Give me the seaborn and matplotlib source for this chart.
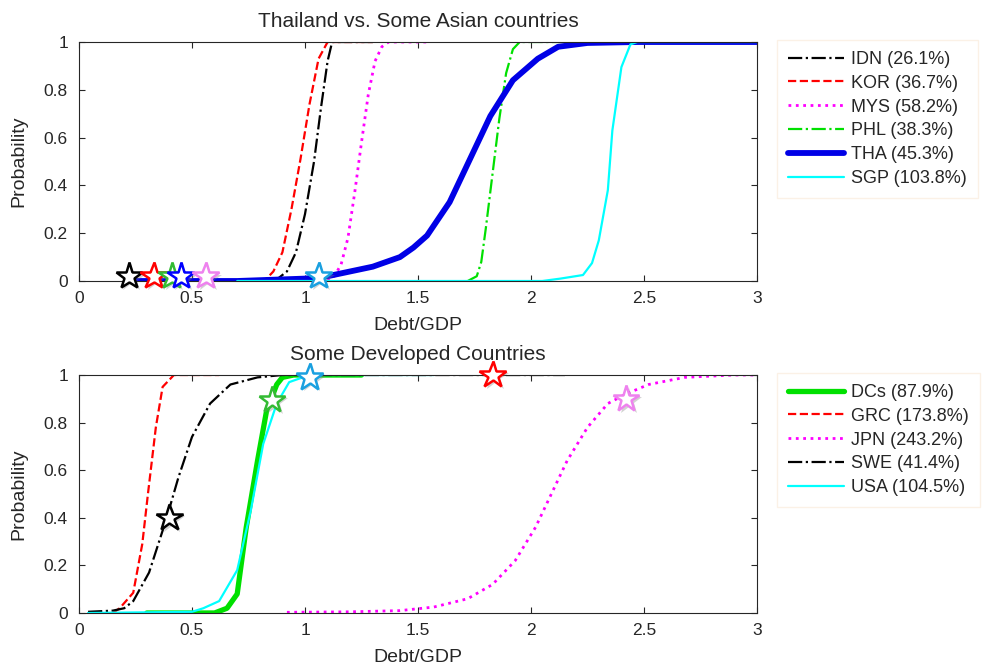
import matplotlib
matplotlib.use("Agg")
import matplotlib.pyplot as plt
import matplotlib.patheffects as pe
from matplotlib.lines import Line2D
import seaborn as sns

# ---- data ----
# top panel: Thailand vs. Some Asian countries
idn_x = [0.85, 0.88, 0.92, 0.96, 1.00, 1.04, 1.07, 1.10, 1.12, 1.30]
idn_y = [0.00, 0.01, 0.04, 0.12, 0.28, 0.50, 0.72, 0.92, 1.00, 1.00]
kor_x = [0.80, 0.83, 0.86, 0.90, 0.94, 0.98, 1.02, 1.06, 1.10, 1.30]
kor_y = [0.00, 0.01, 0.04, 0.12, 0.30, 0.51, 0.74, 0.93, 1.00, 1.00]
mys_x = [1.10, 1.13, 1.16, 1.19, 1.22, 1.25, 1.28, 1.31, 1.34, 1.37, 1.55]
mys_y = [0.00, 0.02, 0.07, 0.18, 0.37, 0.58, 0.78, 0.92, 0.98, 1.00, 1.00]
phl_x = [1.72, 1.76, 1.78, 1.80, 1.83, 1.86, 1.89, 1.92, 1.95, 2.20]
phl_y = [0.00, 0.02, 0.08, 0.22, 0.45, 0.68, 0.87, 0.97, 1.00, 1.00]
tha_x = [0.24, 0.70, 1.00, 1.10, 1.20, 1.30, 1.36, 1.42, 1.48, 1.54, 1.64, 1.73, 1.82, 1.92, 2.03, 2.12, 2.25, 2.47, 3.00]
tha_y = [0.00, 0.00, 0.01, 0.02, 0.04, 0.06, 0.08, 0.10, 0.14, 0.19, 0.33, 0.51, 0.69, 0.84, 0.93, 0.98, 0.996, 1.00, 1.00]
sgp_x = [0.70, 2.05, 2.13, 2.23, 2.27, 2.30, 2.34, 2.36, 2.40, 2.44, 2.47, 3.00]
sgp_y = [0.00, 0.00, 0.01, 0.025, 0.075, 0.17, 0.38, 0.63, 0.895, 0.99, 1.00, 1.00]

top_names = ["IDN (26.1%)", "KOR (36.7%)", "MYS (58.2%)", "PHL (38.3%)", "THA (45.3%)", "SGP (103.8%)"]
top_star_x = [0.22, 0.33, 0.41, 0.45, 0.56, 1.06]
top_star_y = [0.02, 0.02, 0.02, 0.02, 0.02, 0.02]

# bottom panel: Some Developed Countries
dcs_x = [0.30, 0.60, 0.655, 0.70, 0.74, 0.79, 0.83, 0.875, 0.90, 0.95, 1.25]
dcs_y = [0.00, 0.00, 0.02, 0.08, 0.36, 0.64, 0.85, 0.96, 0.99, 1.00, 1.00]
grc_x = [0.15, 0.18, 0.24, 0.28, 0.305, 0.34, 0.37, 0.42, 0.62]
grc_y = [0.00, 0.02, 0.085, 0.29, 0.50, 0.78, 0.95, 1.00, 1.00]
jpn_x = [0.92, 1.20, 1.42, 1.57, 1.72, 1.83, 1.93, 2.02, 2.09, 2.16, 2.25, 2.34, 2.42, 2.52, 2.68, 2.90, 3.00]
jpn_y = [0.003, 0.005, 0.01, 0.025, 0.06, 0.12, 0.22, 0.36, 0.50, 0.64, 0.78, 0.88, 0.92, 0.96, 0.99, 1.00, 1.00]
swe_x = [0.04, 0.15, 0.20, 0.24, 0.31, 0.385, 0.44, 0.50, 0.58, 0.67, 0.79, 0.90, 2.15]
swe_y = [0.005, 0.01, 0.02, 0.05, 0.17, 0.39, 0.57, 0.74, 0.88, 0.96, 0.99, 1.00, 1.00]
usa_x = [0.04, 0.50, 0.55, 0.62, 0.70, 0.76, 0.815, 0.875, 0.93, 0.99, 1.05, 1.57]
usa_y = [0.00, 0.005, 0.02, 0.05, 0.18, 0.43, 0.71, 0.88, 0.97, 0.99, 1.00, 1.00]

bot_names = ["DCs (87.9%)", "GRC (173.8%)", "JPN (243.2%)", "SWE (41.4%)", "USA (104.5%)"]
bot_star_x = [0.855, 1.83, 2.42, 0.40, 1.02]
bot_star_y = [0.895, 1.00, 0.90, 0.40, 0.99]

x_ticks = [0, 0.5, 1, 1.5, 2, 2.5, 3]
x_ticklabels = ["0", "0.5", "1", "1.5", "2", "2.5", "3"]
y_ticks = [0, 0.2, 0.4, 0.6, 0.8, 1]
y_ticklabels = ["0", "0.2", "0.4", "0.6", "0.8", "1"]

sns.set_style("ticks")
plt.rcParams["font.family"] = ["Liberation Sans", "DejaVu Sans"]

fig = plt.figure(figsize=(9.82, 6.65), dpi=100)
ax1 = fig.add_axes([79 / 982, 1 - 281 / 665, 678 / 982, 239 / 665])
ax2 = fig.add_axes([79 / 982, 1 - 613 / 665, 678 / 982, 238 / 665])

shadow = [pe.SimplePatchShadow(offset=(2, -2), shadow_rgbFace="0.5", alpha=0.35), pe.Normal()]

top_series = [
    (idn_x, idn_y, "black", "-.", 1.6),
    (kor_x, kor_y, "red", "--", 1.6),
    (mys_x, mys_y, "magenta", ":", 2.0),
    (phl_x, phl_y, "#00e000", "-.", 1.6),
    (tha_x, tha_y, "#0000e6", "-", 4.2),
    (sgp_x, sgp_y, "cyan", "-", 1.6),
]
top_star_colors = ["black", "red", "#33bb33", "blue", "violet", "#1aa0e0"]

bot_series = [
    (dcs_x, dcs_y, "#00e000", "-", 3.8),
    (grc_x, grc_y, "red", "--", 1.6),
    (jpn_x, jpn_y, "magenta", ":", 2.0),
    (swe_x, swe_y, "black", "-.", 1.6),
    (usa_x, usa_y, "cyan", "-", 1.6),
]
bot_star_colors = ["#33bb33", "red", "violet", "black", "#1aa0e0"]


def draw_panel(ax, series, names, sx, sy, scolors, title, legend_top):
    handles = []
    for (x, y, c, ls, lw), name in zip(series, names):
        sns.lineplot(x=x, y=y, ax=ax, color=c, linestyle=ls, linewidth=lw, sort=False)
        handles.append(Line2D([], [], color=c, linestyle=ls, linewidth=lw, label=name))
    for x, y, c in zip(sx, sy, scolors):
        ax.plot([x], [y], marker="*", markersize=20, markerfacecolor="white",
                markeredgecolor=c, markeredgewidth=1.8, linestyle="none",
                clip_on=False, zorder=5, path_effects=shadow)
    ax.set_xlim(0, 3)
    ax.set_ylim(0, 1)
    ax.set_xticks(x_ticks)
    ax.set_xticklabels(x_ticklabels)
    ax.set_yticks(y_ticks)
    ax.set_yticklabels(y_ticklabels)
    ax.tick_params(direction="in", top=True, right=True, labelsize=12.5, length=4, width=0.8)
    ax.tick_params(axis="x", pad=7)
    ax.tick_params(axis="y", pad=8)
    for s in ax.spines.values():
        s.set_visible(True)
        s.set_linewidth(0.8)
    ax.set_xlabel("Debt/GDP", fontsize=14, labelpad=8)
    ax.set_ylabel("Probability", fontsize=14, labelpad=12)
    ax.set_title(title, fontsize=15, pad=11)
    leg = fig.legend(handles=handles, loc="upper left",
                     bbox_to_anchor=(777 / 982, 1 - legend_top / 665),
                     fontsize=13, frameon=True, fancybox=False,
                     handlelength=3.1, handletextpad=0.4, labelspacing=0.38,
                     borderpad=0.6, borderaxespad=0)
    leg.get_frame().set_edgecolor("#fbeee0")
    leg.get_frame().set_linewidth(1.0)


draw_panel(ax1, top_series, top_names, top_star_x, top_star_y, top_star_colors,
           "Thailand vs. Some Asian countries", 40)
draw_panel(ax2, bot_series, bot_names, bot_star_x, bot_star_y, bot_star_colors,
           "Some Developed Countries", 373)

fig.savefig("out.png", dpi=100)
